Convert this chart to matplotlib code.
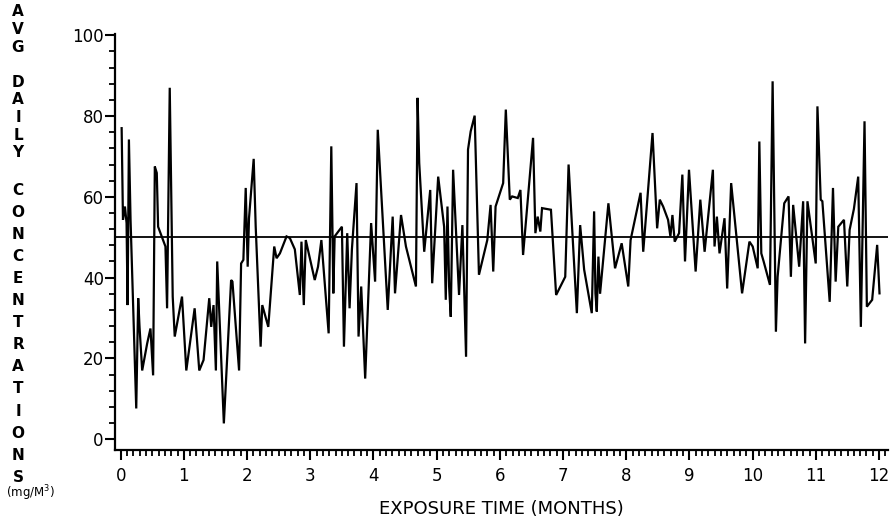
import numpy as np
import matplotlib.pyplot as plt
from matplotlib.ticker import MultipleLocator

# Values (month, mg/M3) at the line's vertices
months = [
    0.016, 0.037, 0.068, 0.094, 0.110, 0.131, 0.157, 0.247, 0.278, 0.299,
    0.341, 0.420, 0.472, 0.514, 0.541, 0.572, 0.593, 0.709, 0.735, 0.777,
    0.824, 0.856, 0.971, 1.039, 1.171, 1.244, 1.312, 1.402, 1.433, 1.470,
    1.507, 1.528, 1.633,
    1.748, 1.769, 1.874, 1.906, 1.942, 1.979, 2.010, 2.031, 2.105, 2.137,
    2.215, 2.241, 2.336, 2.430, 2.467, 2.520, 2.625, 2.677, 2.756, 2.835,
    2.861, 2.898, 2.929, 3.071, 3.123, 3.176, 3.291, 3.333, 3.365,
    3.386, 3.501, 3.533, 3.585, 3.622, 3.659, 3.732, 3.764, 3.806, 3.869,
    3.963, 4.026, 4.068, 4.226, 4.304, 4.341, 4.436, 4.514, 4.672, 4.698,
    4.724, 4.803, 4.898, 4.929, 5.024, 5.118,
    5.144, 5.171, 5.197, 5.223, 5.260, 5.302, 5.354, 5.407, 5.465, 5.496,
    5.538, 5.601, 5.669, 5.801, 5.853, 5.895, 5.932, 6.052, 6.094, 6.157,
    6.194, 6.283, 6.325, 6.367, 6.525, 6.562, 6.598, 6.640, 6.667, 6.808,
    6.890,
    7.034, 7.087, 7.218, 7.270, 7.333, 7.454, 7.491, 7.512, 7.533, 7.559,
    7.585, 7.717, 7.822, 7.927, 8.031, 8.068, 8.226, 8.268, 8.415, 8.488,
    8.530,
    8.583, 8.661, 8.698, 8.730, 8.766, 8.835, 8.887, 8.929, 8.992, 9.097,
    9.171, 9.239, 9.370, 9.396, 9.433, 9.475, 9.554, 9.596, 9.659, 9.832,
    9.948, 10.000, 10.079, 10.105, 10.136, 10.173, 10.273, 10.315,
    10.367, 10.394, 10.499, 10.567, 10.604, 10.640, 10.735, 10.798, 10.829,
    10.866, 10.997, 11.024, 11.076, 11.102, 11.218, 11.270, 11.312, 11.354,
    11.444, 11.496, 11.533, 11.601, 11.669, 11.711, 11.769, 11.806, 11.890,
    11.969, 12.006,
]
conc = [
    77.0, 54.3, 57.6, 53.5, 33.2, 74.2, 54.3, 7.6, 34.9, 27.8,
    17.0, 23.7, 27.4, 15.8, 67.5, 65.9, 52.6, 47.7, 32.4, 87.0,
    35.3, 25.4, 35.3, 17.0, 32.4, 17.0, 19.6, 34.9, 27.8, 33.2,
    17.0, 44.0, 3.9,
    39.4, 39.0, 17.0, 43.5, 44.4, 62.2, 42.7, 54.7, 69.4, 52.6,
    22.9, 33.2, 27.8, 47.7, 44.8, 46.0, 50.2, 49.8, 47.0, 35.7,
    48.9, 33.2, 49.3, 39.4, 42.7, 49.3, 26.2, 72.5, 36.1,
    50.2, 52.6, 22.9, 51.0, 32.4, 47.0, 63.4, 25.4, 37.8, 15.0,
    53.5, 39.0, 76.6, 32.0, 55.1, 36.1, 55.5, 47.7, 37.8, 84.5,
    68.4, 46.4, 61.7, 38.6, 65.0, 52.6,
    34.5, 57.6, 37.8, 30.3, 66.7, 52.6, 35.7, 53.0, 20.4, 71.7,
    76.2, 80.1, 40.7, 49.3, 58.0, 41.5, 57.6, 63.4, 81.6, 59.3,
    60.1, 59.7, 61.7, 45.6, 74.6, 51.0, 55.1, 51.4, 57.2, 56.8,
    35.7,
    40.2, 68.0, 31.2, 53.0, 42.0, 31.2, 56.4, 36.1, 31.6, 45.2,
    36.0, 58.4, 42.3, 48.5, 37.8, 49.3, 61.0, 46.4, 75.8, 52.2,
    59.3,
    57.6, 54.3, 50.2, 55.5, 48.9, 51.0, 65.5, 44.0, 66.7, 41.5,
    59.3, 46.4, 66.7, 47.7, 55.1, 46.0, 54.7, 37.3, 63.4, 36.1,
    48.9, 47.7, 42.3, 73.7, 46.0, 44.0, 38.2, 88.6,
    26.6, 40.2, 58.4, 60.1, 40.2, 58.0, 42.7, 58.9, 23.7,
    58.9, 43.5, 82.4, 59.3, 58.9, 34.0, 62.2, 39.0, 52.6,
    54.3, 37.8, 51.8, 57.0, 65.0, 27.8, 78.7, 32.8, 34.5,
    48.1, 36.1,
]
reference_level = 50
x_ticks = list(range(0, 13))
y_ticks = [0, 20, 40, 60, 80, 100]
y_title_top = "AVG DAILY"
y_title_bottom = "CONCENTRATIONS"

fig = plt.figure(figsize=(8.91, 5.32), dpi=100)
ax = fig.add_axes([0.129, 0.154, 0.8676, 0.782])

ax.plot(months, conc, color="black", lw=1.6, solid_joinstyle="miter")
ax.axhline(reference_level, color="black", lw=1.3)

ax.set_xlim(-0.09, 12.14)
ax.set_ylim(-2.7, 100.3)
ax.spines[["top", "right"]].set_visible(False)
ax.spines[["left", "bottom"]].set_linewidth(1.6)

ax.set_xticks(x_ticks)
ax.set_yticks(y_ticks)
ax.xaxis.set_minor_locator(MultipleLocator(0.1))
ax.yaxis.set_minor_locator(MultipleLocator(4))
ax.tick_params(which="major", length=7, width=1.5, labelsize=12, pad=5)
ax.tick_params(which="minor", length=4, width=1.3)
ax.tick_params(axis="y", which="major", pad=1)

ax.set_xlabel("EXPOSURE TIME (MONTHS)", fontsize=13, labelpad=11)

# stacked letters of the y title, one per row (pixel rows from the top)
for i, ch in enumerate(y_title_top):
    fig.text(18 / 891, 1 - (12 + i * 17.6) / 532, ch, ha="center", va="center",
             fontsize=11, fontweight="bold")
for i, ch in enumerate(y_title_bottom):
    fig.text(18 / 891, 1 - (190 + i * 22.1) / 532, ch, ha="center", va="center",
             fontsize=11, fontweight="bold")
fig.text(30 / 891, 1 - 493 / 532, "(mg/M$^3$)", ha="center", va="center", fontsize=8.5)

plt.savefig("out.png", dpi=100)
plt.close("all")
